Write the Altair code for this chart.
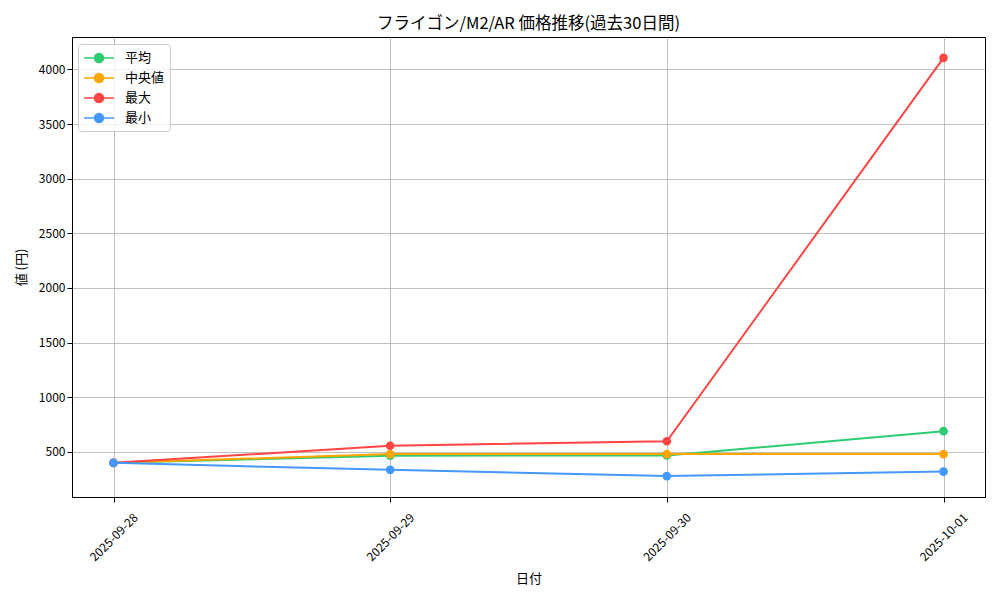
import altair as alt
import pandas as pd

# ---- data ----
dates = ["2025-09-28", "2025-09-29", "2025-09-30", "2025-10-01"]
series_names = ["平均", "中央値", "最大", "最小"]
mean_vals = [400, 466, 467, 690]
median_vals = [400, 480, 480, 480]
max_vals = [400, 557, 598, 4105]
min_vals = [400, 336, 279, 320]
colors = ["#2ecc71", "#ffa500", "#ff4444", "#4499ff"]
y_ticks = [500, 1000, 1500, 2000, 2500, 3000, 3500, 4000]

title_text = "フライゴン/M2/AR 価格推移(過去30日間)"
x_title = "日付"
y_title = "値 (円)"

rows = []
for name, vals in zip(series_names, [mean_vals, median_vals, max_vals, min_vals]):
    for d, v in zip(dates, vals):
        rows.append({"date": d, "series": name, "value": v})
df = pd.DataFrame(rows)

all_vals = mean_vals + median_vals + max_vals + min_vals
lo, hi = min(all_vals), max(all_vals)
pad = 0.05 * (hi - lo)

FONT = "Noto Sans CJK JP"

# legend symbol: a line with a dot (matplotlib style)
legend_path = ("M-1,0H2.75"
               "M1.4375,0A0.5625,0.5625 0 1,1 0.3125,0"
               "A0.5625,0.5625 0 1,1 1.4375,0Z")

color_scale = alt.Scale(domain=series_names, range=colors)
legend = alt.Legend(
    title=None, orient="none", legendX=6, legendY=7,
    symbolType=legend_path, symbolSize=256, symbolStrokeWidth=1.5,
    symbolOpacity=1,
    labelFont=FONT, labelFontSize=13, labelOffset=24, labelColor="black",
    padding=5, rowPadding=3,
    strokeColor="#cccccc", fillColor="rgba(255,255,255,0.8)", cornerRadius=3,
)

x_enc = alt.X(
    "date:O", sort=dates,
    scale=alt.Scale(type="point", padding=0.15),
    axis=alt.Axis(title=x_title, labelAngle=-45, labelAlign="center",
                  labelBaseline="middle", labelPadding=35, titlePadding=9,
                  grid=True),
)
y_enc = alt.Y(
    "value:Q",
    scale=alt.Scale(domain=[lo - pad, hi + pad], nice=False, zero=False),
    axis=alt.Axis(title=y_title, values=y_ticks, format="d", titlePadding=10,
                  grid=True),
)

base = alt.Chart(df).encode(
    x=x_enc, y=y_enc,
    color=alt.Color("series:N", scale=color_scale, legend=legend, sort=series_names),
    order=alt.Order("date:O"),
)

lines = base.mark_line(strokeWidth=2)
points = base.mark_point(filled=True, size=75, opacity=1)

chart = alt.layer(lines, points).properties(
    width=913, height=460,
    background="white",
    autosize=alt.AutoSizeParams(type="none"),
    padding={"left": 64, "top": 29, "right": 5, "bottom": 95},
    title=alt.TitleParams(title_text, font=FONT, fontSize=16.5, fontWeight="normal",
                          color="black", anchor="middle", offset=5),
).configure_axis(
    labelFont=FONT, titleFont=FONT, labelFontSize=12, titleFontSize=13,
    titleFontWeight="normal", labelColor="black", titleColor="black",
    domainColor="black", tickColor="black", tickSize=5, tickWidth=1,
    gridColor="#b0b0b0", gridWidth=0.8, gridOpacity=1,
).configure_view(
    stroke="black", strokeWidth=1,
)

chart.save("out.html", embed_options={"renderer": "svg", "actions": False})
